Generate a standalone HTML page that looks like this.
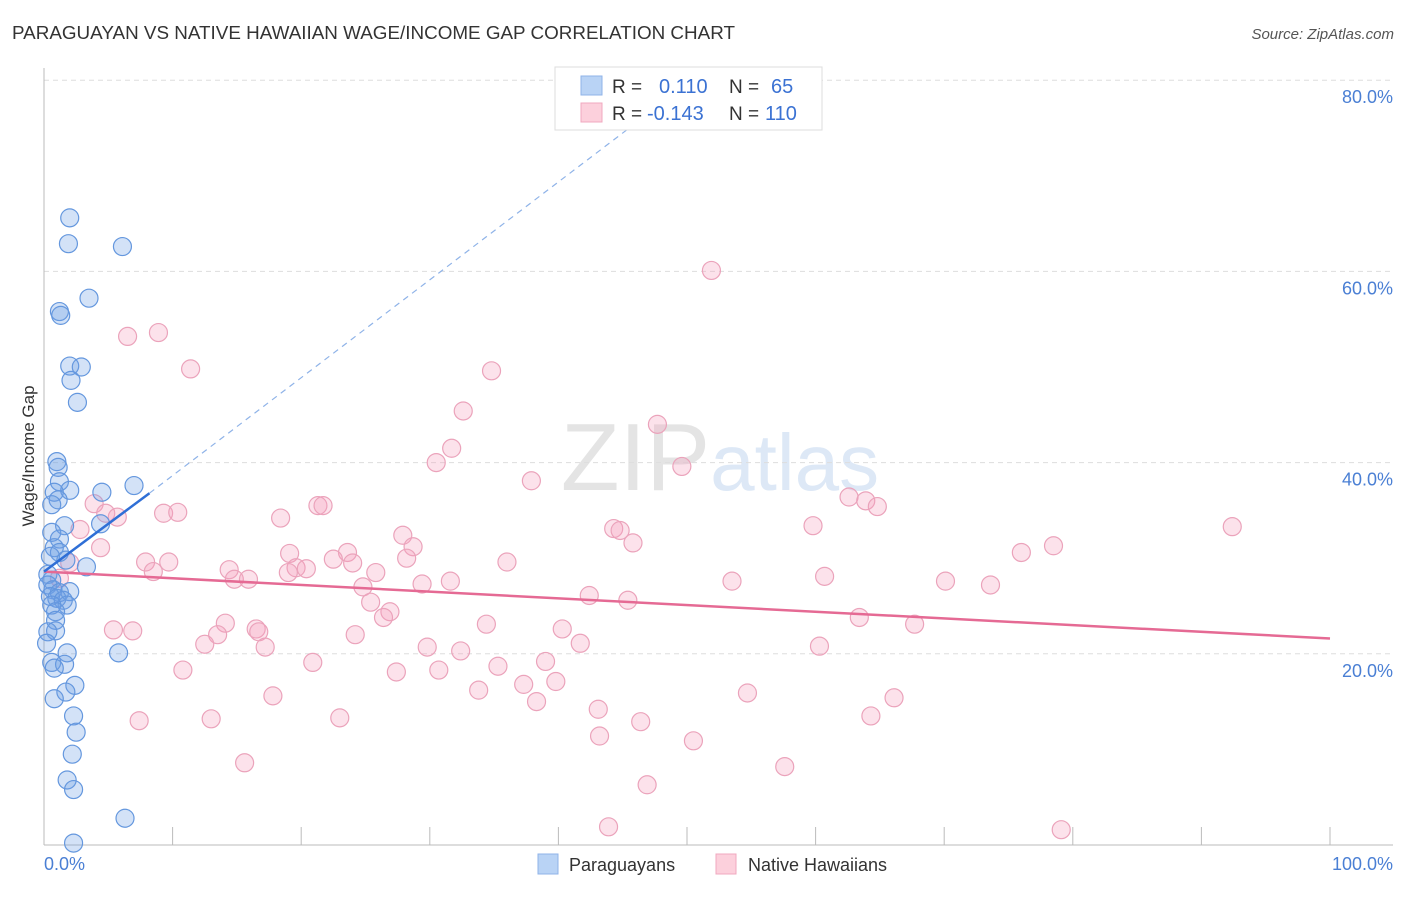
<!DOCTYPE html>
<html><head><meta charset="utf-8">
<style>
body{margin:0;background:#fff;font-family:"Liberation Sans",sans-serif;}
svg text{font-family:"Liberation Sans",sans-serif;}
</style></head>
<body>
<svg id="chart" width="1406" height="892" viewBox="0 0 1406 892" xmlns="http://www.w3.org/2000/svg">
<text x="12" y="39" font-size="18" fill="#333" textLength="723" lengthAdjust="spacingAndGlyphs">PARAGUAYAN VS NATIVE HAWAIIAN WAGE/INCOME GAP CORRELATION CHART</text>
<text x="1394" y="39" font-size="15" fill="#555" text-anchor="end" font-style="italic">Source: ZipAtlas.com</text>
<text x="720" y="490" font-size="96" text-anchor="middle" fill="#e6e6e6" font-family="Liberation Serif"><tspan fill="#e4e4e4">ZIP</tspan><tspan fill="#dde8f6" font-family="Liberation Sans" font-size="80">atlas</tspan></text>
<g id="grid"></g>
<g id="axes"></g>
<g id="points"></g>
<g id="lines"></g>
<text transform="translate(34,456) rotate(-90)" font-size="17" fill="#333" text-anchor="middle">Wage/Income Gap</text>
<g>
<rect x="555" y="67" width="267" height="63" fill="#fff" stroke="#ddd"/>
<rect x="581" y="76" width="21" height="19" fill="#b9d3f5" stroke="#8fb3e8"/>
<rect x="581" y="103" width="21" height="19" fill="#fcd0dc" stroke="#f0a8bf"/>
<text x="612" y="93" font-size="19" fill="#333">R =</text>
<text x="659" y="93" font-size="20" fill="#3b72d3">0.110</text>
<text x="729" y="93" font-size="19" fill="#333">N =</text>
<text x="771" y="93" font-size="20" fill="#3b72d3">65</text>
<text x="612" y="120" font-size="19" fill="#333">R =</text>
<text x="647" y="120" font-size="20" fill="#3b72d3">-0.143</text>
<text x="729" y="120" font-size="19" fill="#333">N =</text>
<text x="765" y="120" font-size="20" fill="#3b72d3">110</text>
</g>
<g>
<rect x="538" y="854" width="20" height="20" fill="#b9d3f5" stroke="#8fb3e8"/>
<text x="569" y="871" font-size="18" fill="#333">Paraguayans</text>
<rect x="716" y="854" width="20" height="20" fill="#fcd0dc" stroke="#f0a8bf"/>
<text x="748" y="871" font-size="18" fill="#333">Native Hawaiians</text>
</g>
</svg>
<script>
const yTicks=[20,40,60,80];
const yTickLabels=["20.0%","40.0%","60.0%","80.0%"];
const xTicks=[0,10,20,30,40,50,60,70,80,90,100];
const blueX=[2.0,1.9,6.1,3.5,1.2,1.3,2.0,2.9,2.1,2.6,1.0,1.1,1.2,7.0,2.0,0.8,4.5,1.1,0.6,1.6,4.4,0.6,1.2,0.8,1.2,0.5,1.7,3.3,0.3,0.6,0.3,0.7,1.2,2.0,0.5,1.0,1.5,1.8,0.6,0.9,0.9,0.9,0.3,0.2,5.8,1.8,0.6,1.6,0.8,2.4,1.7,0.8,2.3,2.5,2.2,1.8,2.3,6.3,2.3];
const blueY=[65.6,62.9,62.6,57.2,55.8,55.4,50.1,50.0,48.6,46.3,40.1,39.5,38.0,37.6,37.1,36.9,36.9,36.1,35.6,33.4,33.6,32.7,32.0,31.1,30.6,30.2,29.8,29.1,28.3,27.7,27.2,26.7,26.4,26.5,26.0,25.8,25.6,25.1,25.1,24.4,23.5,22.4,22.3,21.1,20.1,20.1,19.1,18.9,18.5,16.7,16.0,15.3,13.5,11.8,9.5,6.8,5.8,2.8,0.2];
const pinkX=[51.9,6.5,8.9,11.4,34.8,32.6,31.7,47.7,30.5,49.6,37.9,62.6,63.9,64.8,3.9,4.8,5.7,9.3,10.4,21.3,21.7,18.4,59.8,92.4,2.8,27.9,44.3,44.8,45.8,28.7,78.5,76.0,4.4,19.1,23.6,24.0,22.5,28.2,36.0,7.9,9.7,2.0,19.6,20.4,19.0,8.5,14.4,25.8,1.2,14.8,15.9,31.6,29.4,24.8,53.5,60.7,70.1,73.6,42.4,45.4,25.4,26.9,26.4,63.4,34.4,67.7,14.1,13.5,16.5,16.7,5.4,6.9,40.3,24.2,17.2,12.5,41.7,29.8,60.3,32.4,39.0,20.9,35.3,27.4,30.7,10.8,37.3,39.8,33.8,54.7,17.8,66.1,38.3,43.1,64.3,7.4,13.0,23.0,46.4,43.2,50.5,15.6,57.6,46.9,43.9,79.1];
const pinkY=[60.1,53.2,53.6,49.8,49.6,45.4,41.5,44.0,40.0,39.6,38.1,36.4,36.0,35.4,35.7,34.7,34.3,34.7,34.8,35.5,35.5,34.2,33.4,33.3,33.0,32.4,33.1,32.9,31.6,31.2,31.3,30.6,31.1,30.5,30.6,29.5,29.9,30.0,29.6,29.6,29.6,29.5,29.0,28.9,28.5,28.6,28.8,28.5,27.9,27.8,27.8,27.6,27.3,27.0,27.6,28.1,27.6,27.2,26.1,25.6,25.4,24.4,23.8,23.8,23.1,23.1,23.2,22.0,22.6,22.3,22.5,22.4,22.6,22.0,20.7,21.0,21.1,20.7,20.8,20.3,19.2,19.1,18.7,18.1,18.3,18.3,16.8,17.1,16.2,15.9,15.6,15.4,15.0,14.2,13.5,13.0,13.2,13.3,12.9,11.4,10.9,8.6,8.2,6.3,1.9,1.6];
const blueTrend=[[0,28.6],[8.2,36.8],[46,75.5]];
const pinkTrend=[[0,28.6],[100,21.6]];

const NS="http://www.w3.org/2000/svg";
const X=v=>44+v*12.86;
const Y=v=>845-v*9.56;
function mk(tag,attrs,parent){const e=document.createElementNS(NS,tag);for(const k in attrs)e.setAttribute(k,attrs[k]);parent.appendChild(e);return e;}
const grid=document.getElementById('grid'),axes=document.getElementById('axes'),pts=document.getElementById('points'),lines=document.getElementById('lines');
yTicks.forEach((t,i)=>{
  const l=mk('line',{x1:44,x2:1393,y1:Y(t),y2:Y(t),stroke:'#ddd','stroke-dasharray':'5,4'},grid);
  
  
  const tx=mk('text',{x:1393,y:Y(t)+23,'font-size':18,fill:'#4a7fd4','text-anchor':'end'},axes);
  tx.textContent=yTickLabels[i];
  
  
});
const ya=mk('line',{x1:44,x2:44,y1:68,y2:845,stroke:'#bbb'},axes);


const xa=mk('line',{x1:44,x2:1393,y1:845,y2:845,stroke:'#bbb'},axes);


xTicks.forEach(t=>{
  const l=mk('line',{x1:X(t),x2:X(t),y1:827,y2:845,stroke:'#bbb'},axes);
  
  
});
const x0=mk('text',{x:44,y:870,'font-size':18,fill:'#4a7fd4'},axes);x0.textContent='0.0%';


const x1=mk('text',{x:1393,y:870,'font-size':18,fill:'#4a7fd4','text-anchor':'end'},axes);x1.textContent='100.0%';


pinkX.forEach((v,i)=>{
  const c=mk('circle',{cx:X(v),cy:Y(pinkY[i]),r:9,fill:'rgba(244,160,188,0.3)',stroke:'#eba3bb','stroke-width':1.2},pts);
  
  
});
blueX.forEach((v,i)=>{
  const c=mk('circle',{cx:X(v),cy:Y(blueY[i]),r:9,fill:'rgba(110,160,230,0.3)',stroke:'#6497de','stroke-width':1.2},pts);
  
  
});
const pl=mk('line',{x1:X(pinkTrend[0][0]),y1:Y(pinkTrend[0][1]),x2:X(pinkTrend[1][0]),y2:Y(pinkTrend[1][1]),stroke:'#e56a94','stroke-width':2.5},lines);


const bl=mk('line',{x1:X(blueTrend[0][0]),y1:Y(blueTrend[0][1]),x2:X(blueTrend[1][0]),y2:Y(blueTrend[1][1]),stroke:'#2f6fd6','stroke-width':2.5},lines);


const bd=mk('line',{x1:X(blueTrend[1][0]),y1:Y(blueTrend[1][1]),x2:X(blueTrend[2][0]),y2:Y(blueTrend[2][1]),stroke:'#8fb3e8','stroke-width':1.2,'stroke-dasharray':'6,5'},lines);


</script>
</body></html>
